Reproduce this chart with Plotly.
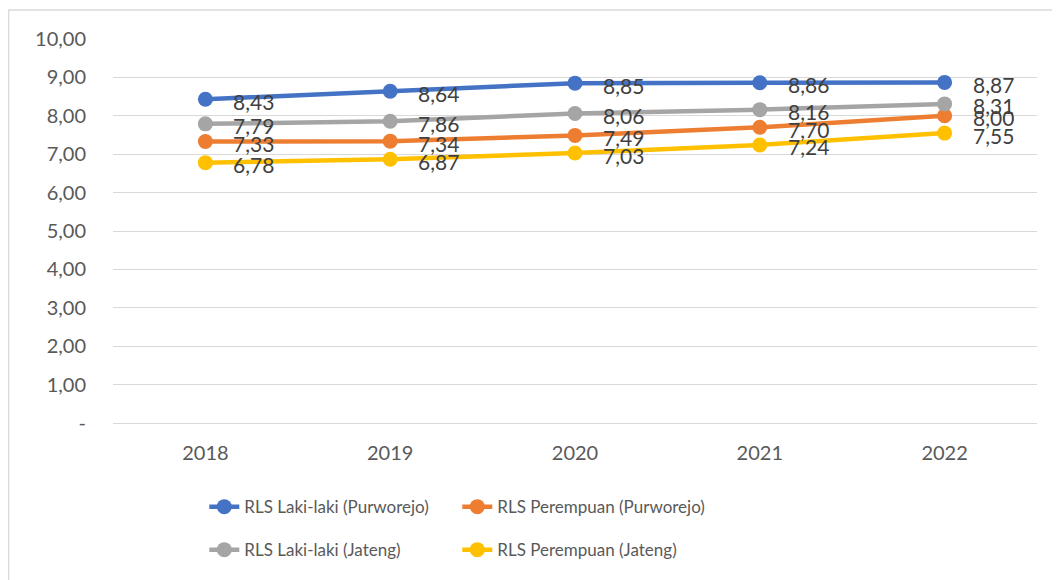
import plotly.graph_objects as go

years = ["2018", "2019", "2020", "2021", "2022"]
laki_purworejo = [8.43, 8.64, 8.85, 8.86, 8.87]
perempuan_purworejo = [7.33, 7.34, 7.49, 7.70, 8.00]
laki_jateng = [7.79, 7.86, 8.06, 8.16, 8.31]
perempuan_jateng = [6.78, 6.87, 7.03, 7.24, 7.55]

series_names = [
    "RLS Laki-laki (Purworejo)",
    "RLS Perempuan (Purworejo)",
    "RLS Laki-laki (Jateng)",
    "RLS Perempuan (Jateng)",
]
series_values = [laki_purworejo, perempuan_purworejo, laki_jateng, perempuan_jateng]
colors = ["#4472C4", "#ED7D31", "#A5A5A5", "#FFC000"]
legends = ["legend", "legend", "legend2", "legend2"]

y_tickvals = [0, 1, 2, 3, 4, 5, 6, 7, 8, 9, 10]
y_ticktext = ["-", "1,00", "2,00", "3,00", "4,00", "5,00", "6,00", "7,00", "8,00", "9,00", "10,00"]

FONT = "Lato, Carlito, Calibri, sans-serif"

fig = go.Figure()
for name, vals, c, lg in zip(series_names, series_values, colors, legends):
    fig.add_trace(go.Scatter(
        x=years, y=vals, name=name, mode="lines+markers",
        line=dict(color=c, width=4.5),
        marker=dict(color=c, size=15),
        legend=lg,
    ))

# data labels (category index used as x position on the category axis)
for vals in series_values:
    for i, v in enumerate(vals):
        fig.add_annotation(
            x=i, y=v, xref="x", yref="y", text=f"{v:.2f}".replace(".", ","),
            showarrow=False, xanchor="left", yanchor="middle",
            xshift=26, yshift=-2,
            font=dict(family=FONT, size=21, color="#404040"),
        )

fig.add_shape(type="rect", xref="paper", yref="paper",
              x0=-0.1129, x1=1.06, y0=-0.43, y1=1.0755,
              line=dict(color="#D9D9D9", width=1.3), fillcolor="rgba(0,0,0,0)", layer="below")

legend_common = dict(
    orientation="h", xanchor="left", yanchor="middle",
    entrywidth=208, entrywidthmode="pixels", tracegroupgap=0,
    font=dict(family=FONT, size=17, color="#595959"), bgcolor="rgba(0,0,0,0)",
)

fig.update_layout(
    width=1052, height=572,
    margin=dict(l=105, r=23, t=31, b=157),
    paper_bgcolor="white", plot_bgcolor="white",
    font=dict(family=FONT, size=20, color="#595959"),
    xaxis=dict(
        type="category", range=[-0.5, 4.5], showgrid=False, zeroline=False,
        showline=False, ticks="", ticklabelstandoff=16,
        tickfont=dict(family=FONT, size=20, color="#595959"),
    ),
    yaxis=dict(
        range=[0, 10], tickvals=y_tickvals, ticktext=y_ticktext,
        showgrid=True, gridcolor="#D9D9D9", gridwidth=1.3,
        zeroline=True, zerolinecolor="#D9D9D9", zerolinewidth=1.3,
        showline=False, ticks="", ticklabelstandoff=26,
        tickfont=dict(family=FONT, size=20, color="#595959"),
    ),
    legend=dict(x=0.0988, y=-0.219, **legend_common),
    legend2=dict(x=0.0988, y=-0.331, **legend_common),
    showlegend=True,
)

fig.write_html("out.html")
